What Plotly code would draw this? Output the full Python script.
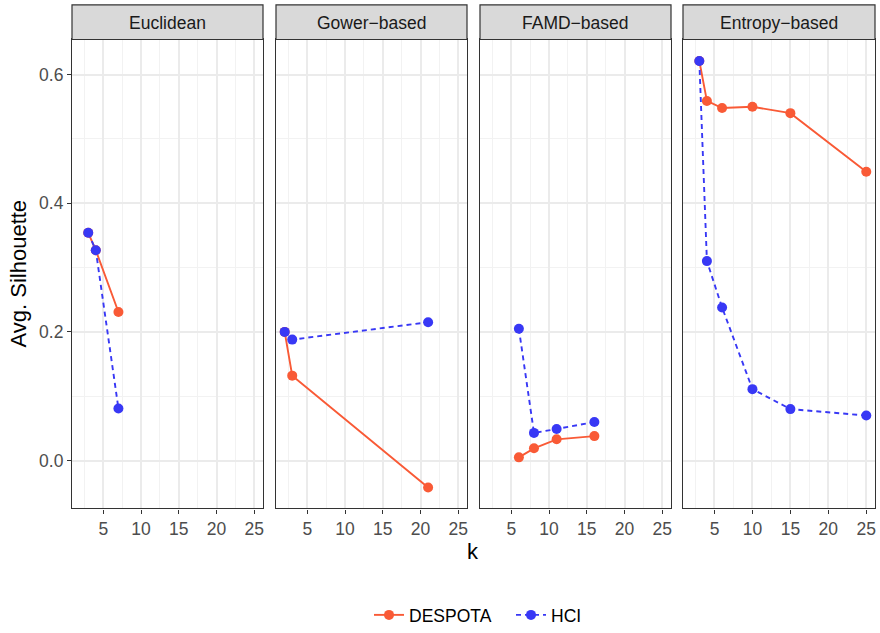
import plotly.graph_objects as go

W, H = 880, 633

panels = ["Euclidean", "Gower\u2212based", "FAMD\u2212based", "Entropy\u2212based"]

# DESPOTA series per panel
despota_k = [[3, 4, 7], [2, 3, 21], [6, 8, 11, 16], [3, 4, 6, 10, 15, 25]]
despota_s = [[0.354, 0.327, 0.231], [0.200, 0.132, -0.042],
             [0.005, 0.019, 0.033, 0.038],
             [0.621, 0.559, 0.548, 0.550, 0.540, 0.449]]
# HCI series per panel
hci_k = [[3, 4, 7], [2, 3, 21], [6, 8, 11, 16], [3, 4, 6, 10, 15, 25]]
hci_s = [[0.354, 0.327, 0.081], [0.200, 0.188, 0.215],
         [0.205, 0.043, 0.049, 0.060],
         [0.621, 0.310, 0.238, 0.111, 0.080, 0.070]]

x_ticks = [5, 10, 15, 20, 25]
y_ticks = [0.0, 0.2, 0.4, 0.6]

RED = "#F95A36"
BLUE = "#3838F5"
FONT = "Liberation Sans"
TXT = 17.5

# panel pixel extents
px_left = [72, 276, 480, 683]
px_right = [263, 467, 671, 875]
plot_top, plot_bot = 40, 515
strip_top = 5

fig = go.Figure()

for i in range(4):
    xa = "x" if i == 0 else f"x{i+1}"
    ya = "y" if i == 0 else f"y{i+1}"
    fig.add_trace(go.Scatter(
        x=despota_k[i], y=despota_s[i], mode="lines+markers", name="DESPOTA",
        line=dict(color=RED, width=1.9), marker=dict(color=RED, size=10),
        xaxis=xa, yaxis=ya, showlegend=(i == 0), legendgroup="D"))
for i in range(4):
    xa = "x" if i == 0 else f"x{i+1}"
    ya = "y" if i == 0 else f"y{i+1}"
    fig.add_trace(go.Scatter(
        x=hci_k[i], y=hci_s[i], mode="lines+markers", name="HCI",
        line=dict(color=BLUE, width=1.9, dash="5px,4px"), marker=dict(color=BLUE, size=10),
        xaxis=xa, yaxis=ya, showlegend=(i == 0), legendgroup="H"))

ydom = [(H - plot_bot) / H, (H - plot_top) / H]
layout = dict(
    width=W, height=H, margin=dict(l=0, r=0, t=0, b=0),
    plot_bgcolor="white", paper_bgcolor="white",
    font=dict(family=FONT, color="#4D4D4D", size=TXT),
    showlegend=True,
    legend=dict(orientation="h", x=369 / W, xanchor="left", y=(H - 623) / H, yanchor="middle",
                font=dict(family=FONT, size=TXT, color="black"), traceorder="normal",
                itemwidth=30, entrywidth=97, bgcolor="rgba(0,0,0,0)"),
)

shapes = []
annotations = []
for i in range(4):
    sfx = "" if i == 0 else str(i + 1)
    xd = [px_left[i] / W, px_right[i] / W]
    layout["xaxis" + sfx] = dict(
        domain=xd, range=[0.85, 26.15], tickvals=x_ticks, ticks="outside", ticklen=4,
        tickcolor="#333333", tickwidth=1.2, showline=True, linecolor="#333333", linewidth=1.2,
        mirror=True, showgrid=True, gridcolor="#EBEBEB", gridwidth=1.6, zeroline=False,
        tickfont=dict(size=TXT, color="#4D4D4D"), anchor="y" + sfx,
        minor=dict(tickvals=[2.5, 7.5, 12.5, 17.5, 22.5], showgrid=True, gridcolor="#F2F2F2", gridwidth=0.9),
    )
    layout["yaxis" + sfx] = dict(
        domain=ydom, range=[-0.0745, 0.6545], tickvals=y_ticks,
        ticktext=["0.0", "0.2", "0.4", "0.6"], showticklabels=(i == 0),
        ticks="outside" if i == 0 else "", ticklen=4, tickcolor="#333333", tickwidth=1.2,
        showline=True, linecolor="#333333", linewidth=1.2, mirror=True,
        showgrid=True, gridcolor="#EBEBEB", gridwidth=1.6, zeroline=False,
        tickfont=dict(size=TXT, color="#4D4D4D"), anchor="x" + sfx,
        minor=dict(tickvals=[0.1, 0.3, 0.5], showgrid=True, gridcolor="#F2F2F2", gridwidth=0.9),
    )
    shapes.append(dict(type="rect", xref="paper", yref="paper",
                       x0=xd[0], x1=xd[1], y0=(H - plot_top) / H, y1=(H - strip_top) / H,
                       fillcolor="#D9D9D9", line=dict(color="#333333", width=1.2), layer="above"))
    annotations.append(dict(text=panels[i], xref="paper", yref="paper",
                            x=(xd[0] + xd[1]) / 2, y=(H - (plot_top + strip_top) / 2 - 1) / H,
                            xanchor="center", yanchor="middle", showarrow=False,
                            font=dict(family=FONT, size=TXT, color="#1A1A1A")))

annotations.append(dict(text="k", xref="paper", yref="paper", x=473 / W, y=(H - 559) / H,
                        xanchor="center", yanchor="middle", showarrow=False,
                        font=dict(family=FONT, size=22, color="black")))
annotations.append(dict(text="Avg. Silhouette", xref="paper", yref="paper", x=18 / W,
                        y=(H - 277) / H, xanchor="center", yanchor="middle", textangle=-90,
                        showarrow=False, font=dict(family=FONT, size=22, color="black")))

layout["shapes"] = shapes
layout["annotations"] = annotations
fig.update_layout(**layout)

post = ("document.documentElement.style.margin='0';document.documentElement.style.padding='0';"
        "document.documentElement.style.overflow='hidden';"
        "document.body.style.margin='0';document.body.style.padding='0';"
        "document.body.style.overflow='hidden';document.body.style.height='633px';"
        "document.documentElement.style.height='633px';")
fig.write_html("out.html", config={"displayModeBar": False}, post_script=post)
